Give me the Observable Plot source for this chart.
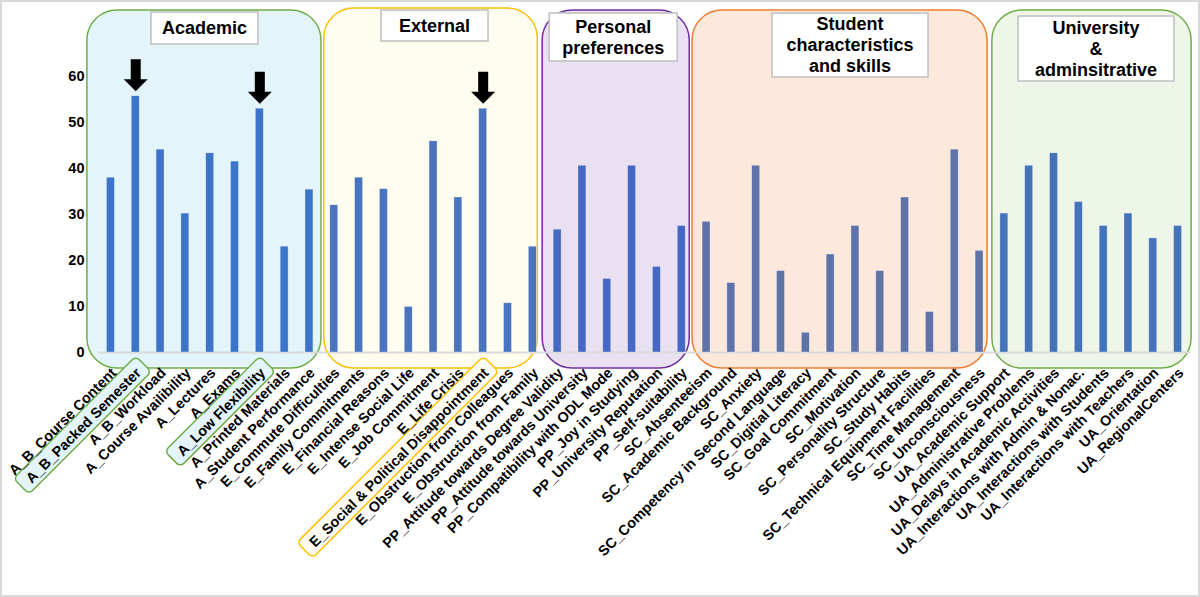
<!DOCTYPE html>
<html><head><meta charset="utf-8">
<script src="https://cdn.jsdelivr.net/npm/d3@7"></script>
<script src="https://cdn.jsdelivr.net/npm/@observablehq/plot@0.6"></script>
<style>
body{margin:0;background:#fff;}
#chart svg{display:block;outline:2px solid #d9d9d9;outline-offset:-2px;}
</style></head><body><div id="chart"></div>
<script>
const categories = [
  "A_B_Course Content","A_B_Packed Semester","A_B_Workload","A_Course Availibility","A_Lectures","A_Exams","A_Low Flexibility","A_Printed Materials","A_Student Performance",
  "E_Commute Difficulties","E_Family Commitments","E_Financial Reasons","E_Intense Social Life","E_Job Commitment","E_Life Crisis","E_Social & Political Disappointment","E_Obstruction from Colleagues","E_Obstruction from Family",
  "PP_Attitude towards Degree Validity","PP_Attitude towards University","PP_Compatibility with ODL Mode","PP_Joy in Studying","PP_University Reputation","PP_Self-suitability",
  "SC_Absenteeism","SC_Academic Background","SC_Anxiety","SC_Competency in Second Language","SC_Digitial Literacy","SC_Goal Commitment","SC_Motivation","SC_Personality Structure","SC_Study Habits","SC_Technical Equipment Facilities","SC_Time Management","SC_Unconsciousness",
  "UA_Academic Support","UA_Administrative Problems","UA_Delays in Academic Activities","UA_Interactions with Admin & Nonac.","UA_Interactions with Students","UA_Interactions with Teachers","UA_Orientation","UA_RegionalCenters"
];
const values = [
  38.0, 55.7, 44.1, 30.2, 43.3, 41.5, 53.0, 23.0, 35.4,
  32.0, 38.0, 35.5, 9.9, 45.9, 33.7, 53.0, 10.7, 23.0,
  26.7, 40.6, 16.0, 40.6, 18.6, 27.5,
  28.4, 15.1, 40.6, 17.7, 4.3, 21.3, 27.5, 17.7, 33.7, 8.8, 44.1, 22.1,
  30.2, 40.6, 43.3, 32.7, 27.5, 30.2, 24.8, 27.5
];
const groupTitles = [["Academic"],["External"],["Personal","preferences"],["Student","characteristics","and skills"],["University","&","adminsitrative"]];
const groupSizes = [9, 9, 6, 12, 8];
const highlighted = ["A_B_Packed Semester","A_Low Flexibility","E_Social & Political Disappointment"];
const arrowed = ["A_B_Packed Semester","A_Low Flexibility","E_Social & Political Disappointment"];
const yTicks = [0, 10, 20, 30, 40, 50, 60];

// ---- styles / layout ----
const FONT = '"Liberation Sans", Arial, sans-serif';
const groupStyle = [
  {stroke:"#70ad47", fill:"#e3f4fb", bar:"#3b74c8", hl:"#e3f4fb"},
  {stroke:"#ffc000", fill:"#fffcf0", bar:"#4a74bd", hl:"#fffdf3"},
  {stroke:"#7030a0", fill:"#e9e1f1", bar:"#4468c4", hl:"#e9e1f1"},
  {stroke:"#ed7d31", fill:"#fce9dc", bar:"#5f73a8", hl:"#fce9dc"},
  {stroke:"#70ad47", fill:"#eef6e9", bar:"#4473b8", hl:"#eef6e9"}
];
const boxLayout = [
  {l:-23.5, r:12, top:10},
  {l:-10, r:5, top:8},
  {l:-15, r:8, top:10},
  {l:-14, r:8, top:10},
  {l:-12, r:13.5, top:10}
];
const boxBottom = 368;
const titleLayout = [
  {dx:0.5, top:12, w:107, h:32},
  {dx:4, top:10, w:107, h:31},
  {dx:-2.5, top:13, w:128, h:48},
  {dx:10.5, top:13, w:156, h:64},
  {dx:4.5, top:16, w:156, h:65}
];
const LABEL_SIZE = 14.4, LABEL_DX = 3, LABEL_DY = 18;

const groupOf = [];
groupSizes.forEach((n, g) => { for (let i = 0; i < n; i++) groupOf.push(g); });
const data = categories.map((name, i) => ({name, value: values[i], group: groupOf[i]}));

const ctx2d = document.createElement("canvas").getContext("2d");
ctx2d.font = `bold ${LABEL_SIZE}px "Liberation Sans"`;

function center(x, name) { return x(name) + x.bandwidth() / 2; }
function groupExtents(x) {
  let start = 0;
  return groupSizes.map((n, g) => {
    const first = categories[start], last = categories[start + n - 1];
    start += n;
    return {x1: center(x, first) + boxLayout[g].l, x2: center(x, last) + boxLayout[g].r};
  });
}

const groupBoxesMark = (index, scales) => {
  const g = d3.create("svg:g");
  groupExtents(scales.x).forEach((e, i) => {
    g.append("rect").attr("x", e.x1).attr("y", boxLayout[i].top)
      .attr("width", e.x2 - e.x1).attr("height", boxBottom - boxLayout[i].top)
      .attr("rx", 30).attr("ry", 30)
      .attr("fill", groupStyle[i].fill).attr("stroke", groupStyle[i].stroke).attr("stroke-width", 1.5);
  });
  return g.node();
};

const labelRectsMark = (index, scales) => {
  const g = d3.create("svg:g");
  highlighted.forEach(name => {
    const gi = groupOf[categories.indexOf(name)];
    const w = ctx2d.measureText(name).width;
    const px = center(scales.x, name) + LABEL_DX, py = scales.y(0) + LABEL_DY;
    g.append("rect").attr("transform", `translate(${px},${py}) rotate(-45)`)
      .attr("x", -w - 9).attr("y", -11.5).attr("width", w + 17).attr("height", 22)
      .attr("rx", 5).attr("ry", 5)
      .attr("fill", groupStyle[gi].hl).attr("stroke", groupStyle[gi].stroke).attr("stroke-width", 1.5);
  });
  return g.node();
};

const titlesMark = (index, scales) => {
  const g = d3.create("svg:g");
  groupExtents(scales.x).forEach((e, i) => {
    const L = titleLayout[i];
    const cx = (e.x1 + e.x2) / 2 + L.dx;
    g.append("rect").attr("x", cx - L.w / 2).attr("y", L.top).attr("width", L.w).attr("height", L.h)
      .attr("fill", "#fff").attr("stroke", "#bfbfbf").attr("stroke-width", 1.5);
    const lines = groupTitles[i], n = lines.length;
    lines.forEach((t, j) => {
      g.append("text").attr("x", cx).attr("y", L.top + L.h / 2 + (j - (n - 1) / 2) * 21)
        .attr("text-anchor", "middle").attr("dy", "0.35em")
        .attr("font-size", 18).attr("font-weight", "bold").attr("font-family", FONT).attr("fill", "#000")
        .text(t);
    });
  });
  return g.node();
};

const arrowSymbol = {
  draw(c, size) {
    c.moveTo(-5, -37); c.lineTo(5, -37); c.lineTo(5, -17); c.lineTo(12, -17);
    c.lineTo(0, -5); c.lineTo(-12, -17); c.lineTo(-5, -17); c.closePath();
  }
};

const chart = Plot.plot({
  width: 1200, height: 597,
  marginLeft: 98, marginRight: 10, marginTop: 76, marginBottom: 245,
  style: {fontFamily: FONT, color: "#000", background: "#fff"},
  x: {type: "band", domain: categories, paddingInner: 0.68, paddingOuter: 0.34, axis: null},
  y: {domain: [0, 60]},
  color: {type: "identity"},
  marks: [
    groupBoxesMark,
    Plot.ruleY([0], {stroke: "#d9d9d9", strokeWidth: 2}),
    Plot.barY(data, {x: "name", y: "value", fill: d => groupStyle[d.group].bar, stroke: "#ffffff", strokeOpacity: 0.5, strokeWidth: 0.6}),
    Plot.dot(data.filter(d => arrowed.includes(d.name)), {x: "name", y: "value", symbol: arrowSymbol, r: 10, fill: "#000", stroke: "none"}),
    labelRectsMark,
    Plot.text(data, {x: "name", y: d => 0, text: "name", rotate: -45, textAnchor: "end", lineAnchor: "middle",
      dx: LABEL_DX, dy: LABEL_DY, fontSize: LABEL_SIZE, fontWeight: "bold", fill: "#000"}),
    titlesMark,
    Plot.axisY(yTicks, {tickSize: 0, tickPadding: 14, fontSize: 14.5, fontWeight: "bold", fill: "#000", label: null})
  ]
});
document.getElementById("chart").append(chart);
</script>
</body></html>
